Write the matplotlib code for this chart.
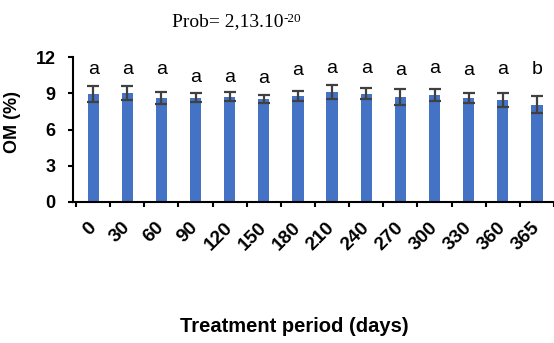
import matplotlib
matplotlib.use("Agg")
import matplotlib.pyplot as plt
import numpy as np

days = ["0", "30", "60", "90", "120", "150", "180", "210", "240", "270", "300", "330", "360", "365"]
om_mean = [8.94, 9.02, 8.63, 8.63, 8.72, 8.53, 8.80, 9.13, 8.97, 8.69, 8.88, 8.61, 8.44, 8.05]
om_err = [0.69, 0.56, 0.50, 0.39, 0.38, 0.35, 0.41, 0.58, 0.44, 0.66, 0.50, 0.44, 0.56, 0.72]
letters = ["a", "a", "a", "a", "a", "a", "a", "a", "a", "a", "a", "a", "a", "b"]
letter_y = [10.6, 10.6, 10.6, 9.93, 9.93, 9.85, 10.51, 10.68, 10.68, 10.51, 10.68, 10.51, 10.6, 10.6]
yticks = [0, 3, 6, 9, 12]

plt.rcParams['font.family'] = ['Liberation Sans', 'DejaVu Sans']

fig = plt.figure(figsize=(5.54, 3.43), dpi=100)
ax = fig.add_axes([73/554, 1-202/343, 481/554, 145/343])

x = np.arange(len(days))
ax.bar(x, om_mean, width=0.33, color="#4472C4", zorder=2)
ax.errorbar(x, om_mean, yerr=om_err, fmt='none', ecolor="#404040",
            elinewidth=1.6, capsize=4.2, capthick=1.6, zorder=3)
for xi, lt, ly in zip(x, letters, letter_y):
    ax.text(xi, ly, lt, ha='center', va='baseline', fontsize=14)

ax.set_ylim(0, 12)
ax.set_xlim(-0.59, 13.5)
ax.set_yticks(yticks)
ax.set_yticklabels([str(v) for v in yticks], fontweight='bold', fontsize=13)
ax.set_xticks(x)
ax.set_xticklabels(days, rotation=45, ha='right', va='center', rotation_mode='anchor',
                   fontweight='bold', fontsize=13.8)
ax.set_xticks(np.arange(-0.5, len(days), 1.0), minor=True)
ax.tick_params(axis='x', which='major', length=0, pad=16.5)
ax.tick_params(axis='x', which='minor', length=3.5, width=1.5, direction='out')
ax.tick_params(axis='y', which='major', length=3.5, width=1.5, pad=9)

for s in ['top', 'right']:
    ax.spines[s].set_visible(False)
for s in ['left', 'bottom']:
    ax.spines[s].set_linewidth(1.5)
    ax.spines[s].set_color('black')

ax.set_ylabel("OM (%)", fontweight='bold', fontsize=13)
ax.yaxis.set_label_coords(-0.108, 0.552)

fig.text(294/554, 1-327/343, "Treatment period (days)", ha='center', va='center',
         fontweight='bold', fontsize=14.5)
t = fig.text(228/554, 1-26/343, "Prob= 2,13.10", ha='center', va='baseline',
             fontsize=14, family='Liberation Serif')
ax.annotate("-20", xy=(1.0, 0.5), xycoords=t, ha='left', va='baseline',
            fontsize=9.5, family='Liberation Serif', annotation_clip=False)

fig.savefig("out.png", dpi=100)
